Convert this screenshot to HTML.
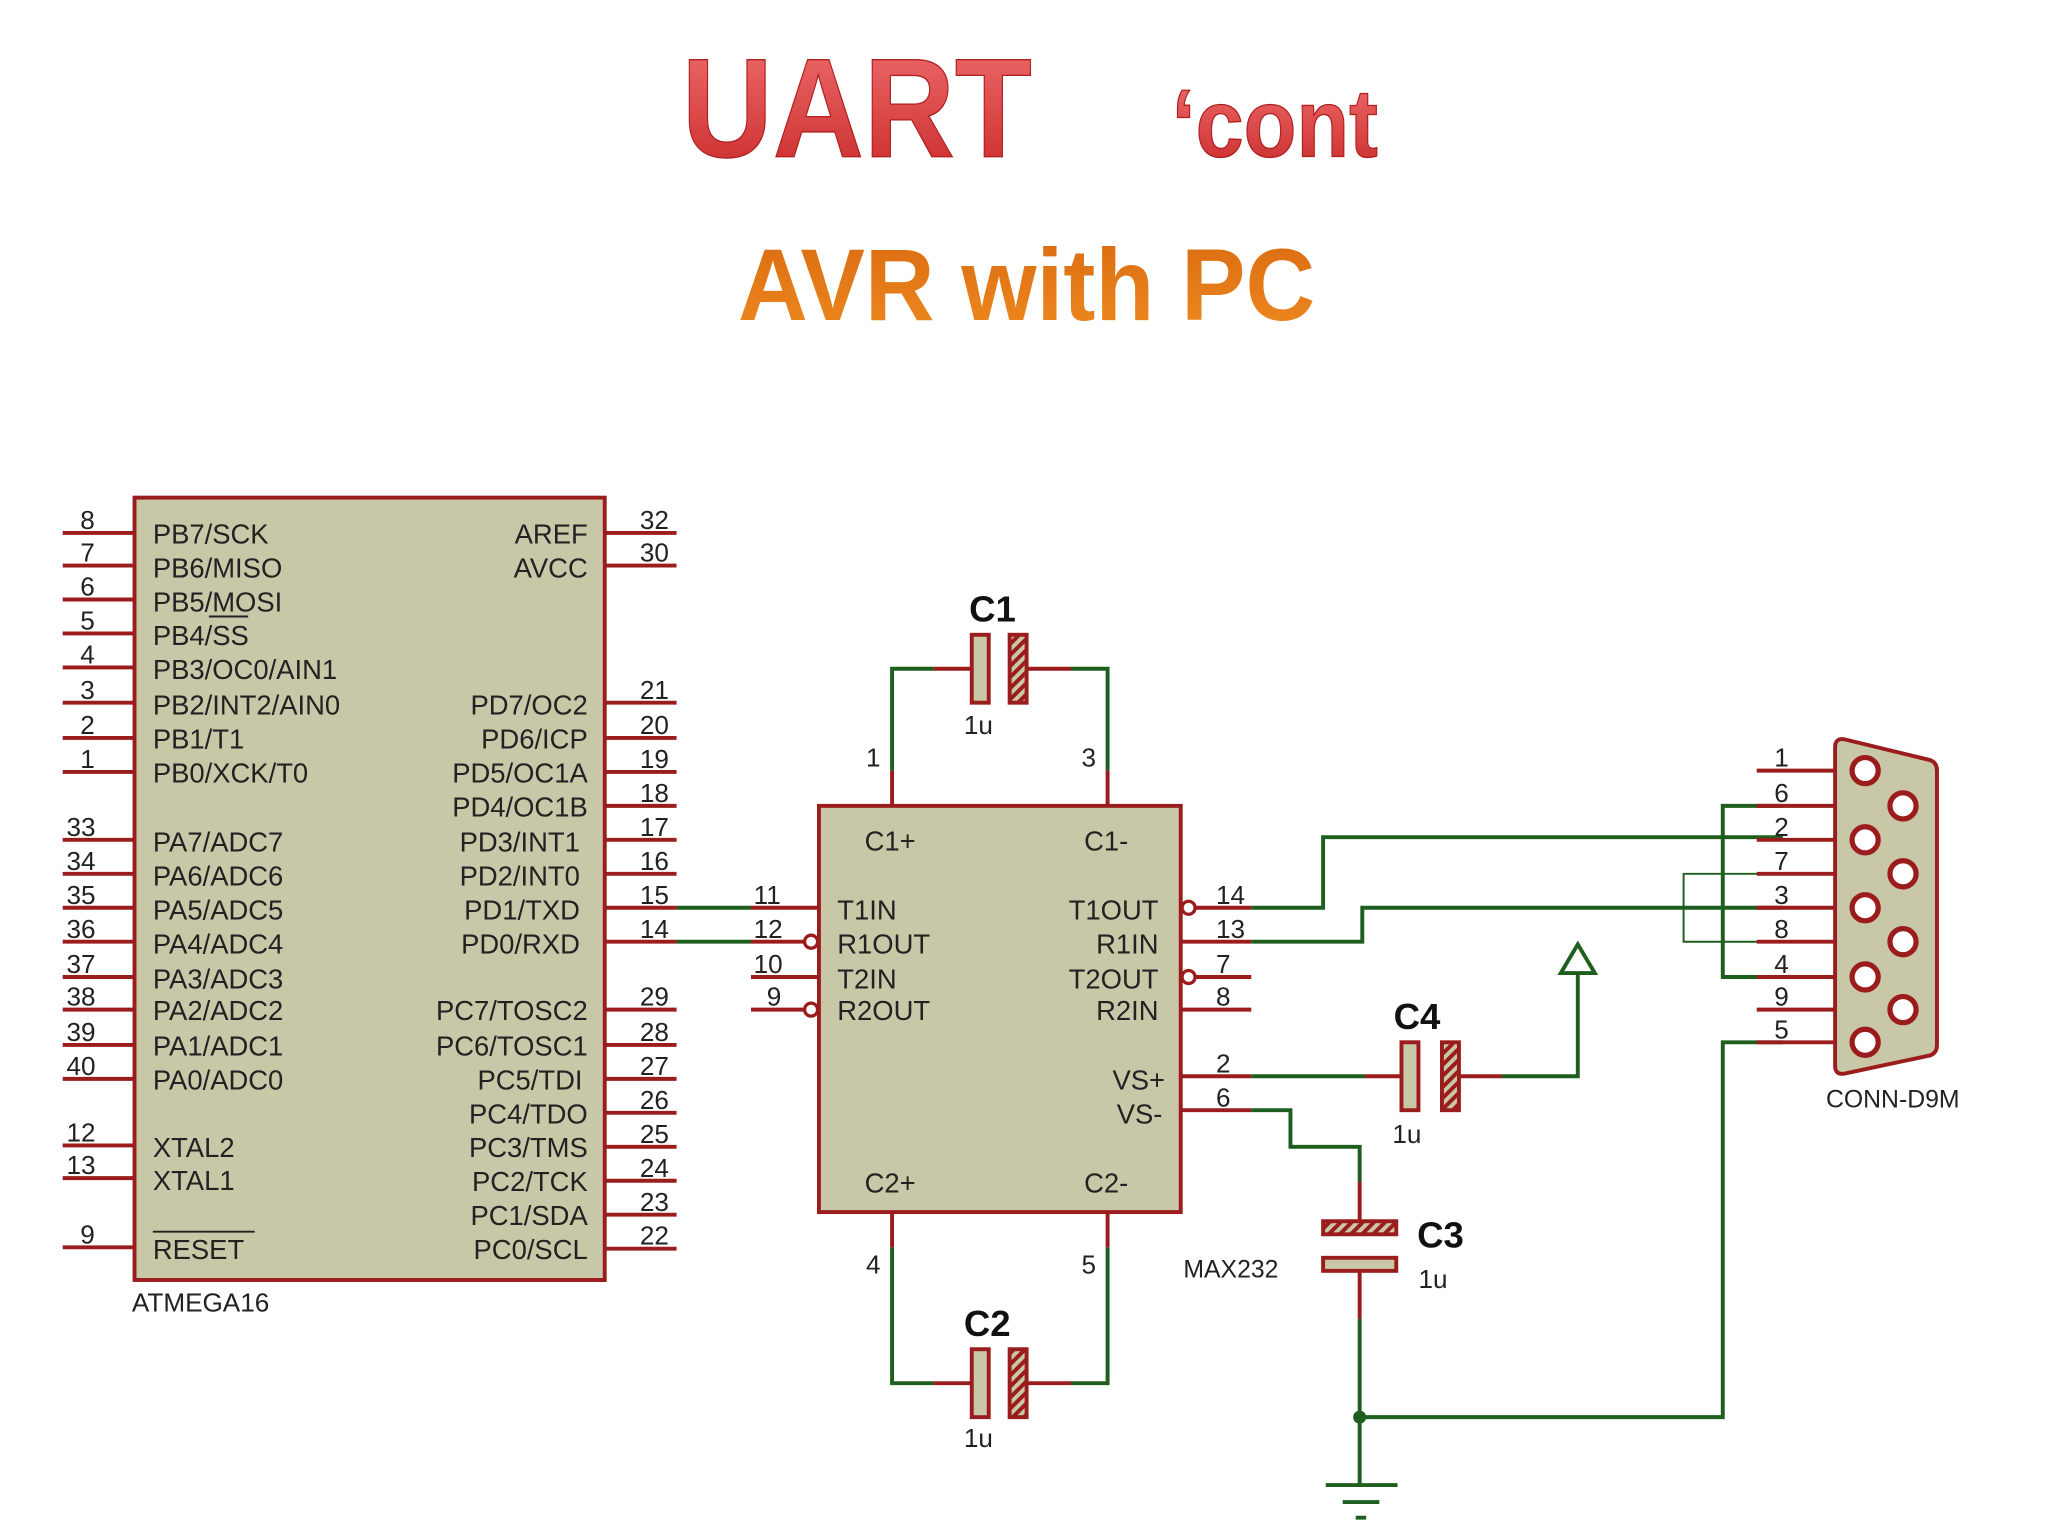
<!DOCTYPE html>
<html><head><meta charset="utf-8"><style>
html,body{margin:0;padding:0;background:#fff;}
svg{display:block;}
text{font-family:"Liberation Sans",sans-serif;}
.r{stroke:#9b1c1c;stroke-width:3;fill:none;}
.g{stroke:#1e5e1e;stroke-width:3;fill:none;}
.lb{font-size:21px;fill:#222;}
.pn{font-size:20px;fill:#222;}
</style></head><body>
<svg width="2048" height="1536" viewBox="0 0 1568 1176" xmlns="http://www.w3.org/2000/svg">
<rect width="1568" height="1176" fill="#fff"/>
<defs>
<linearGradient id="rg" x1="0" y1="0" x2="0" y2="1"><stop offset="0" stop-color="#f07070"/><stop offset="1" stop-color="#c82828"/></linearGradient>
<linearGradient id="og" x1="0" y1="0" x2="0" y2="1"><stop offset="0" stop-color="#d86a10"/><stop offset="1" stop-color="#f08a20"/></linearGradient>
<pattern id="h" width="6" height="6" patternUnits="userSpaceOnUse" patternTransform="rotate(45)"><rect width="6" height="6" fill="#c8c8a8"/><rect width="3" height="6" fill="#9b1c1c"/></pattern>
</defs>
<!-- titles -->
<text x="522" y="120" font-size="108" font-weight="bold" fill="url(#rg)" stroke="#b02020" stroke-width="1" textLength="268" lengthAdjust="spacingAndGlyphs">UART</text>
<text x="897" y="120" font-size="74" font-weight="bold" fill="url(#rg)" stroke="#b02020" stroke-width="1" textLength="158" lengthAdjust="spacingAndGlyphs">‘cont</text>
<text x="565" y="245" font-size="78" font-weight="bold" fill="url(#og)" textLength="442" lengthAdjust="spacingAndGlyphs">AVR with PC</text>

<!-- ATMEGA16 -->
<rect x="103" y="381" width="360" height="599" fill="#c8c8a8" stroke="#9b1c1c" stroke-width="3"/>
<g class="r">
<path d="M48 408H103M48 433H103M48 459H103M48 485H103M48 511H103M48 538H103M48 565H103M48 591H103M48 643H103M48 669H103M48 695H103M48 721H103M48 748H103M48 773H103M48 800H103M48 826H103M48 877H103M48 902H103M48 955H103"/>
<path d="M463 408H518M463 433H518M463 538H518M463 565H518M463 591H518M463 617H518M463 643H518M463 669H518M463 695H518M463 721H518M463 773H518M463 800H518M463 826H518M463 852H518M463 878H518M463 904H518M463 930H518M463 956H518"/>
</g>
<g class="pn" text-anchor="middle">
<text x="67" y="405">8</text><text x="67" y="430">7</text><text x="67" y="456">6</text><text x="67" y="482">5</text><text x="67" y="508">4</text><text x="67" y="535">3</text><text x="67" y="562">2</text><text x="67" y="588">1</text>
<text x="62" y="640">33</text><text x="62" y="666">34</text><text x="62" y="692">35</text><text x="62" y="718">36</text><text x="62" y="745">37</text><text x="62" y="770">38</text><text x="62" y="797">39</text><text x="62" y="823">40</text>
<text x="62" y="874">12</text><text x="62" y="899">13</text><text x="67" y="952">9</text>
<text x="501" y="405">32</text><text x="501" y="430">30</text><text x="501" y="535">21</text><text x="501" y="562">20</text><text x="501" y="588">19</text><text x="501" y="614">18</text><text x="501" y="640">17</text><text x="501" y="666">16</text><text x="501" y="692">15</text><text x="501" y="718">14</text><text x="501" y="770">29</text><text x="501" y="797">28</text><text x="501" y="823">27</text><text x="501" y="849">26</text><text x="501" y="875">25</text><text x="501" y="901">24</text><text x="501" y="927">23</text><text x="501" y="953">22</text>
</g>
<g class="lb">
<text x="117" y="416">PB7/SCK</text><text x="117" y="442">PB6/MISO</text><text x="117" y="468">PB5/MOSI</text><text x="117" y="494">PB4/SS</text><text x="117" y="520">PB3/OC0/AIN1</text><text x="117" y="547">PB2/INT2/AIN0</text><text x="117" y="573">PB1/T1</text><text x="117" y="599">PB0/XCK/T0</text>
<text x="117" y="652">PA7/ADC7</text><text x="117" y="678">PA6/ADC6</text><text x="117" y="704">PA5/ADC5</text><text x="117" y="730">PA4/ADC4</text><text x="117" y="757">PA3/ADC3</text><text x="117" y="781">PA2/ADC2</text><text x="117" y="808">PA1/ADC1</text><text x="117" y="834">PA0/ADC0</text>
<text x="117" y="886">XTAL2</text><text x="117" y="911">XTAL1</text><text x="117" y="964">RESET</text>
</g>
<path d="M117 943H195M160 472H190" stroke="#222" stroke-width="1.5"/>
<g class="lb" text-anchor="end">
<text x="450" y="416">AREF</text><text x="450" y="442">AVCC</text><text x="450" y="547">PD7/OC2</text><text x="450" y="573">PD6/ICP</text><text x="450" y="599">PD5/OC1A</text><text x="450" y="625">PD4/OC1B</text><text x="444" y="652">PD3/INT1</text><text x="444" y="678">PD2/INT0</text><text x="444" y="704">PD1/TXD</text><text x="444" y="730">PD0/RXD</text>
<text x="450" y="781">PC7/TOSC2</text><text x="450" y="808">PC6/TOSC1</text><text x="446" y="834">PC5/TDI</text><text x="450" y="860">PC4/TDO</text><text x="450" y="886">PC3/TMS</text><text x="450" y="912">PC2/TCK</text><text x="450" y="938">PC1/SDA</text><text x="450" y="964">PC0/SCL</text>
</g>
<text x="101" y="1004" font-size="20" fill="#222">ATMEGA16</text>

<!-- MAX232 -->
<rect x="627" y="617" width="277" height="311" fill="#c8c8a8" stroke="#9b1c1c" stroke-width="3"/>
<g class="g">
<path d="M518 695H575M518 721H575"/>
<path d="M683 590V512H715M848 590V512H820"/>
<path d="M683 955V1059H715M848 955V1059H820"/>
<path d="M958 695H1013V641H1365M958 721H1043V695H1365"/>
<path d="M958 824H1045M1150 824H1208V745"/>
<path d="M958 850H988V878H1041V905M1041 1010V1137M1041 1085H1319V798H1365"/>
<path d="M1365 617H1319V748H1365"/>
</g>
<path d="M1365 669H1289V721H1365" stroke="#1e5e1e" stroke-width="1.5" fill="none"/>
<polygon points="1208,723 1195,745 1221,745" fill="none" stroke="#1e5e1e" stroke-width="3"/>
<circle cx="1041" cy="1085" r="5" fill="#1e5e1e"/>
<path d="M1015 1137H1070M1028 1150H1056M1038 1162H1046" stroke="#1e5e1e" stroke-width="3"/>
<g class="r">
<path d="M575 695H627M575 721H617M575 748H627M575 773H617"/>
<path d="M904 695H958M914 721H958M904 721H914M914 748H958M904 773H958M904 824H958M904 850H958"/>
<path d="M683 617V590M848 617V590M683 928V955M848 928V955"/>
<path d="M715 512H745M787 512H820M715 1059H745M787 1059H820"/>
<path d="M1045 824H1073M1118 824H1150"/>
<path d="M1041 905V935M1041 973V1010"/>
<path d="M1345 590H1417M1345 617H1446M1345 643H1417M1345 669H1446M1345 695H1417M1345 721H1446M1345 748H1417M1345 773H1446M1345 798H1417"/>
</g>
<g fill="#fff" stroke="#9b1c1c" stroke-width="2.5">
<circle cx="621" cy="721" r="5"/><circle cx="621" cy="773" r="5"/><circle cx="910" cy="695" r="5"/><circle cx="910" cy="748" r="5"/>
</g>
<!-- caps -->
<g stroke="#9b1c1c" stroke-width="3">
<rect x="744" y="486" width="13" height="52" fill="#c8c8a8"/><rect x="773" y="486" width="13" height="52" fill="url(#h)"/>
<rect x="744" y="1033" width="13" height="52" fill="#c8c8a8"/><rect x="773" y="1033" width="13" height="52" fill="url(#h)"/>
<rect x="1073" y="798" width="13" height="52" fill="#c8c8a8"/><rect x="1104" y="798" width="13" height="52" fill="url(#h)"/>
<rect x="1013" y="935" width="56" height="10" fill="url(#h)"/><rect x="1013" y="963" width="56" height="10" fill="#c8c8a8"/>
</g>
<g font-size="28" fill="#111" font-weight="bold">
<text x="742" y="476">C1</text><text x="738" y="1023">C2</text><text x="1067" y="788">C4</text><text x="1085" y="955">C3</text>
</g>
<g class="pn">
<text x="738" y="562">1u</text><text x="738" y="1108">1u</text><text x="1066" y="875">1u</text><text x="1086" y="986">1u</text>
<text x="663" y="587">1</text><text x="828" y="587">3</text><text x="663" y="975">4</text><text x="828" y="975">5</text>
<text x="577" y="692">11</text><text x="577" y="718">12</text><text x="577" y="745">10</text><text x="587" y="770">9</text>
<text x="931" y="692">14</text><text x="931" y="718">13</text><text x="931" y="745">7</text><text x="931" y="770">8</text><text x="931" y="821">2</text><text x="931" y="847">6</text>
</g>
<g class="lb">
<text x="662" y="651">C1+</text><text x="830" y="651">C1-</text><text x="662" y="913">C2+</text><text x="830" y="913">C2-</text>
<text x="641" y="704">T1IN</text><text x="641" y="730">R1OUT</text><text x="641" y="757">T2IN</text><text x="641" y="781">R2OUT</text>
</g>
<g class="lb" text-anchor="end">
<text x="887" y="704">T1OUT</text><text x="887" y="730">R1IN</text><text x="887" y="757">T2OUT</text><text x="887" y="781">R2IN</text><text x="892" y="834">VS+</text><text x="890" y="860">VS-</text>
</g>
<text x="906" y="978" font-size="19" fill="#222">MAX232</text>

<!-- D9 connector -->
<path d="M1405 572 Q1405 565 1412 566 L1478 582 Q1483 584 1483 590 L1483 800 Q1483 806 1478 808 L1412 822 Q1405 823 1405 816 Z" fill="#c8c8a8" stroke="#9b1c1c" stroke-width="3"/>
<g fill="#fff" stroke="#9b1c1c" stroke-width="4">
<circle cx="1428" cy="590" r="10"/><circle cx="1428" cy="643" r="10"/><circle cx="1428" cy="695" r="10"/><circle cx="1428" cy="748" r="10"/><circle cx="1428" cy="798" r="10"/>
<circle cx="1457" cy="617" r="10"/><circle cx="1457" cy="669" r="10"/><circle cx="1457" cy="721" r="10"/><circle cx="1457" cy="773" r="10"/>
</g>
<g class="pn" text-anchor="middle">
<text x="1364" y="587">1</text><text x="1364" y="614">6</text><text x="1364" y="640">2</text><text x="1364" y="666">7</text><text x="1364" y="692">3</text><text x="1364" y="718">8</text><text x="1364" y="745">4</text><text x="1364" y="770">9</text><text x="1364" y="795">5</text>
</g>
<text x="1398" y="848" font-size="19" fill="#222">CONN-D9M</text>
</svg>
</body></html>
